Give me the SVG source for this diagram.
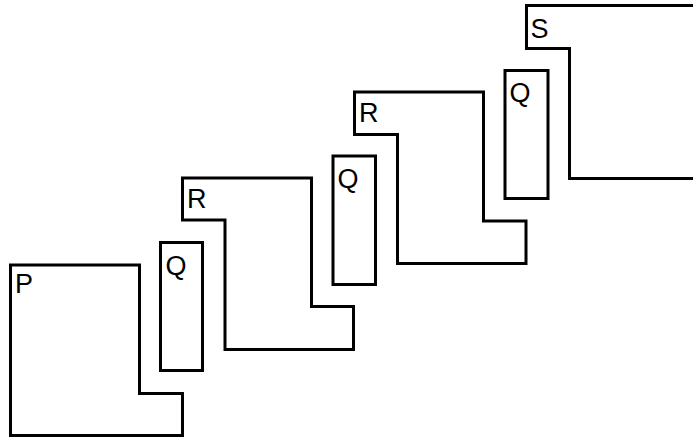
<svg xmlns="http://www.w3.org/2000/svg" width="693" height="438" viewBox="0 0 693 438">
<style>
.s{fill:#fff;stroke:#000;stroke-width:3;stroke-linejoin:miter}
.t{font-family:"Liberation Sans",Arial,sans-serif;font-size:27px;fill:#000}
</style>
<rect width="693" height="438" fill="#fff"/>
<g id="connectors"/>
<g id="P">
<polygon class="s" points="10.5,265 139.5,265 139.5,393.5 182.5,393.5 182.5,435.5 10.5,435.5"/>
<text class="t" x="15" y="293">P</text>
</g>
<g id="Q1">
<rect class="s" x="160.5" y="242.5" width="42" height="128"/>
<text class="t" x="165.5" y="274.5">Q</text>
</g>
<g id="R1">
<polygon class="s" points="182.5,178 311.5,178 311.5,306.5 353.5,306.5 353.5,349.5 225,349.5 225,220 182.5,220"/>
<text class="t" x="187" y="208">R</text>
</g>
<g id="Q2">
<rect class="s" x="333" y="156" width="42.5" height="128.5"/>
<text class="t" x="337.5" y="188">Q</text>
</g>
<g id="R2">
<polygon class="s" points="354.5,92 483.5,92 483.5,221 526,221 526,263.5 397.5,263.5 397.5,134.5 354.5,134.5"/>
<text class="t" x="359" y="121.5">R</text>
</g>
<g id="Q3">
<rect class="s" x="505" y="70.5" width="43" height="128"/>
<text class="t" x="509.5" y="101.5">Q</text>
</g>
<g id="S">
<polygon class="s" points="526.5,5.5 700,5.5 700,178.5 569.5,178.5 569.5,48.5 526.5,48.5"/>
<text class="t" x="530.5" y="37.5">S</text>
</g>
</svg>
